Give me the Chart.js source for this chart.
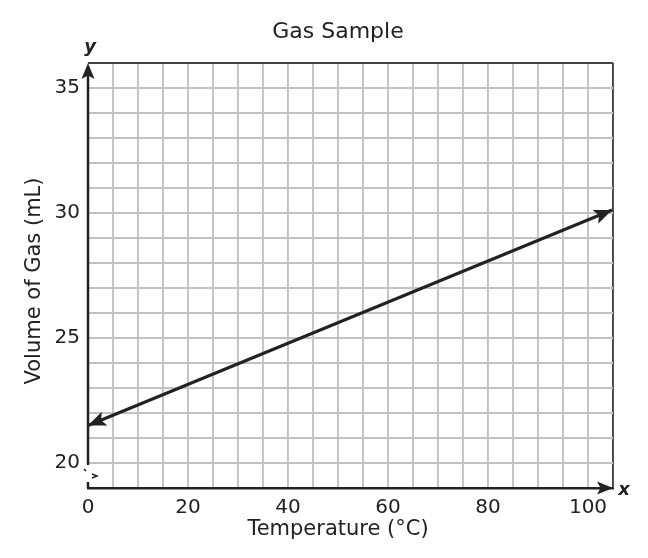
<!DOCTYPE html>
<html>
<head>
<meta charset="utf-8">
<title>Gas Sample</title>
<script src="https://cdn.jsdelivr.net/npm/chart.js@4.4.1/dist/chart.umd.min.js"></script>
<style>
  html, body { margin: 0; padding: 0; background: #fff; }
  #wrap { width: 648px; height: 558px; position: relative; }
</style>
</head>
<body>
<div id="wrap"><canvas id="gasChart"></canvas></div>
<script>
// ====== DATA ======
const temperatures = [0, 104.8];        // °C, ends of the drawn line (arrow tips)
const volumes = [21.5, 30.12];          // mL
const xLabels = [0, 20, 40, 60, 80, 100];
const yLabels = [20, 25, 30, 35];
const xRange = [0, 105];
const yRange = [19, 36];

const chartTitle = 'Gas Sample';
const xTitle = 'Temperature (°C)';
const yTitle = 'Volume of Gas (mL)';

const FONT = '"DejaVu Sans", Verdana, sans-serif';
const INK = '#222';
const GRID = '#c2c2c2';

// ====== DECORATION: titles, arrows, axis break ======
function arrowHead(ctx, tipX, tipY, ang, len, half) {
  ctx.save();
  ctx.translate(tipX, tipY);
  ctx.rotate(ang);
  ctx.beginPath();
  ctx.moveTo(0, 0);
  ctx.lineTo(-len, -half);
  ctx.lineTo(-len * 0.78, 0);
  ctx.lineTo(-len, half);
  ctx.closePath();
  ctx.fill();
  ctx.restore();
}

const decor = {
  id: 'decor',
  afterDraw(chart) {
    const { ctx, chartArea: a } = chart;
    ctx.save();
    ctx.fillStyle = INK;
    ctx.strokeStyle = INK;

    // titles
    ctx.textAlign = 'center';
    ctx.textBaseline = 'middle';
    ctx.font = '22px ' + FONT;
    ctx.fillText(chartTitle, 338, 32);
    ctx.font = '21px ' + FONT;
    ctx.fillText(xTitle, 338, 530);
    ctx.save();
    ctx.translate(35, 281);
    ctx.rotate(-Math.PI / 2);
    ctx.fillText(yTitle, 0, 0);
    ctx.restore();

    // axis letters
    ctx.font = 'italic bold 18px ' + FONT;
    ctx.fillText('y', 90, 47);
    ctx.fillText('x', 624, 490);

    // y axis with break near the origin
    const y20 = chart.scales.y.getPixelForValue(20);
    ctx.lineWidth = 2.5;
    ctx.beginPath();
    ctx.moveTo(a.left, a.top + 6);
    ctx.lineTo(a.left, y20 + 2);
    ctx.stroke();
    ctx.lineWidth = 1.5;
    ctx.beginPath();
    ctx.moveTo(a.left - 4, y20 + 6);
    ctx.lineTo(a.left - 2, y20 + 8);
    ctx.moveTo(a.left + 4, y20 + 11);
    ctx.lineTo(a.left + 9, y20 + 13);
    ctx.lineTo(a.left + 4, y20 + 15);
    ctx.stroke();
    ctx.lineWidth = 2.5;
    ctx.beginPath();
    ctx.moveTo(a.left, a.bottom - 6);
    ctx.lineTo(a.left, a.bottom);
    ctx.stroke();

    // axis arrows
    arrowHead(ctx, a.left, a.top, -Math.PI / 2, 16, 6.5);
    arrowHead(ctx, a.right, a.bottom, 0, 16, 6.5);

    // arrows on both ends of the data line
    const pts = chart.getDatasetMeta(0).data;
    const p0 = pts[0], p1 = pts[pts.length - 1];
    const ang = Math.atan2(p1.y - p0.y, p1.x - p0.x);
    arrowHead(ctx, p1.x, p1.y, ang, 18, 7.5);
    arrowHead(ctx, p0.x, p0.y, ang + Math.PI, 18, 7.5);
    ctx.restore();
  }
};

// ====== CHART ======
new Chart(document.getElementById('gasChart'), {
  type: 'line',
  data: {
    datasets: [{
      data: temperatures.map((t, i) => ({ x: t, y: volumes[i] })),
      borderColor: INK,
      borderWidth: 3,
      pointRadius: 0,
      tension: 0,
      fill: false,
      clip: false,
    }]
  },
  options: {
    responsive: true,
    maintainAspectRatio: false,
    animation: false,
    layout: { padding: { top: 63, right: 35, left: 0, bottom: 0 } },
    plugins: { legend: { display: false }, tooltip: { enabled: false }, title: { display: false } },
    scales: {
      x: {
        type: 'linear',
        min: xRange[0], max: xRange[1],
        afterFit: s => { s.height = 70; },
        afterBuildTicks: s => { s.ticks = []; for (let v = xRange[0]; v <= xRange[1]; v += 5) s.ticks.push({ value: v }); },
        grid: {
          drawTicks: false,
          lineWidth: 1.9,
          color: c => c.tick && c.tick.value === xRange[0] ? 'rgba(0,0,0,0)' : (c.tick && c.tick.value === xRange[1] ? '#444' : GRID),
        },
        border: { display: true, color: INK, width: 2.5 },
        ticks: {
          color: INK, font: { family: FONT, size: 20 }, padding: 8, maxRotation: 0, autoSkip: false,
          callback: v => xLabels.includes(v) ? String(v) : '',
        },
      },
      y: {
        type: 'linear',
        min: yRange[0], max: yRange[1],
        afterFit: s => { s.width = 88; },
        afterBuildTicks: s => { s.ticks = []; for (let v = yRange[0]; v <= yRange[1]; v += 1) s.ticks.push({ value: v }); },
        grid: {
          drawTicks: false,
          lineWidth: 1.9,
          color: c => c.tick && c.tick.value === yRange[1] ? '#444' : GRID,
        },
        border: { display: false },
        ticks: {
          color: INK, font: { family: FONT, size: 20 }, padding: 8, autoSkip: false,
          callback: v => yLabels.includes(v) ? String(v) : '',
        },
      }
    }
  },
  plugins: [decor]
});
</script>
</body>
</html>
